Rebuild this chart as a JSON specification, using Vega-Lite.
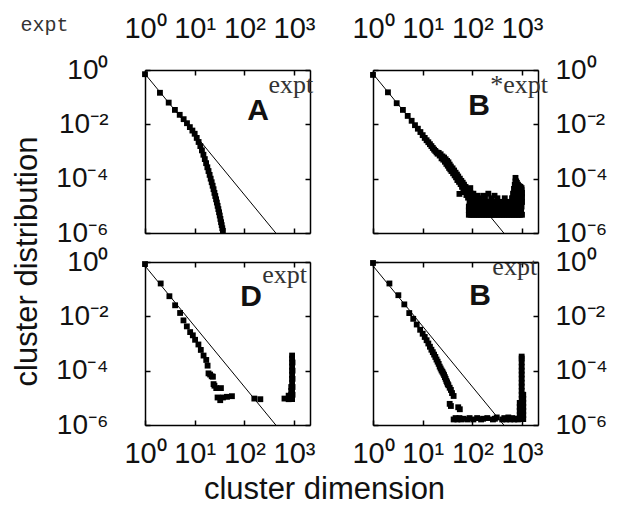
{
"$schema":"https://vega.github.io/schema/vega-lite/v6.json",
"autosize":"none",
"padding":{"left":145,"top":70,"right":475,"bottom":439},
"background":"white",
"config":{
 "view":{"stroke":null},
 "axis":{"grid":false,"domainColor":"#000","domainWidth":1.5,"tickColor":"#000","tickWidth":1.5,"tickSize":-5,"labelFont":"Liberation Sans","labelFontSize":29,"labelColor":"#111","labelOverlap":false,"labelFlush":false,"titleFont":"Liberation Sans","titleFontSize":31,"titleFontWeight":"normal","titleColor":"#111"},
 "axisY":{"labelFontSize":28}
},
"datasets":{
 "line":[{"x":1,"y":0.72},{"x":430,"y":0.000001}],
 "ann":[
  {"p":"A","letter":"A","sup":"expt","lx":115,"ly":0.0145,"sx":305,"sy":0.142},
  {"p":"B","letter":"B","sup":"*expt","lx":83,"ly":0.0224,"sx":230,"sy":0.142},
  {"p":"D","letter":"D","sup":"expt","lx":83,"ly":0.0234,"sx":230,"sy":0.166},
  {"p":"E","letter":"B","sup":"expt","lx":87,"ly":0.0257,"sx":253,"sy":0.33}
 ],
 "pts":[
  {"p":"A","x":1,"y":0.7},{"p":"A","x":2,"y":0.145},{"p":"A","x":3,"y":0.063},{"p":"A","x":4,"y":0.034},{"p":"A","x":5,"y":0.0224},{"p":"A","x":6,"y":0.0155},{"p":"A","x":7,"y":0.011},{"p":"A","x":8,"y":0.0079},{"p":"A","x":9,"y":0.0059},{"p":"A","x":10,"y":0.0045},{"p":"A","x":11,"y":0.00316},{"p":"A","x":12,"y":0.00224},{"p":"A","x":13,"y":0.00158},{"p":"A","x":14,"y":0.0011},{"p":"A","x":15,"y":0.00076},{"p":"A","x":16,"y":0.000525},{"p":"A","x":17,"y":0.000372},{"p":"A","x":18,"y":0.000263},{"p":"A","x":19,"y":0.000191},{"p":"A","x":20,"y":0.000138},{"p":"A","x":21,"y":0.0001},{"p":"A","x":22,"y":7.4e-5},{"p":"A","x":23,"y":5.5e-5},{"p":"A","x":24,"y":4.1e-5},{"p":"A","x":25,"y":3.0e-5},{"p":"A","x":26,"y":2.3e-5},{"p":"A","x":27,"y":1.74e-5},{"p":"A","x":28,"y":1.32e-5},{"p":"A","x":29,"y":1.0e-5},{"p":"A","x":30,"y":7.6e-6},{"p":"A","x":31,"y":5.8e-6},{"p":"A","x":32,"y":4.4e-6},{"p":"A","x":33,"y":3.3e-6},{"p":"A","x":34,"y":2.5e-6},{"p":"A","x":35,"y":1.95e-6},{"p":"A","x":36,"y":1.5e-6},{"p":"A","x":37,"y":1.2e-6},

  {"p":"B","x":1,"y":0.66},{"p":"B","x":2,"y":0.151},{"p":"B","x":3,"y":0.06},{"p":"B","x":4,"y":0.034},{"p":"B","x":5,"y":0.0204},{"p":"B","x":6,"y":0.0135},{"p":"B","x":7,"y":0.0093},{"p":"B","x":8,"y":0.0069},{"p":"B","x":9,"y":0.0052},{"p":"B","x":10,"y":0.004},{"p":"B","x":11,"y":0.00316},{"p":"B","x":12,"y":0.0026},{"p":"B","x":13,"y":0.0022},{"p":"B","x":14,"y":0.00186},{"p":"B","x":15,"y":0.00158},{"p":"B","x":16,"y":0.00135},{"p":"B","x":17,"y":0.00117},{"p":"B","x":18,"y":0.00105},{"p":"B","x":19,"y":0.00093},{"p":"B","x":20,"y":0.00083},
  {"p":"B","x":21,"y":0.00089},{"p":"B","x":22,"y":0.00071},{"p":"B","x":23,"y":0.00079},{"p":"B","x":24,"y":0.00056},{"p":"B","x":25,"y":0.00066},{"p":"B","x":26,"y":0.0005},{"p":"B","x":27,"y":0.0006},{"p":"B","x":28,"y":0.00042},{"p":"B","x":29,"y":0.00052},{"p":"B","x":30,"y":0.00035},{"p":"B","x":31,"y":0.00045},{"p":"B","x":32,"y":0.0003},{"p":"B","x":33,"y":0.0004},{"p":"B","x":34,"y":0.00025},{"p":"B","x":35,"y":0.00033},{"p":"B","x":36,"y":0.00022},{"p":"B","x":37,"y":0.00028},{"p":"B","x":38,"y":0.00019},{"p":"B","x":40,"y":0.00024},{"p":"B","x":41,"y":0.000158},{"p":"B","x":43,"y":0.0002},{"p":"B","x":44,"y":0.000132},{"p":"B","x":46,"y":0.000166},{"p":"B","x":47,"y":0.000112},{"p":"B","x":49,"y":0.000141},{"p":"B","x":50,"y":8.9e-5},{"p":"B","x":52,"y":0.00012},{"p":"B","x":54,"y":7.6e-5},{"p":"B","x":55,"y":2.75e-5},{"p":"B","x":56,"y":0.0001},{"p":"B","x":58,"y":6.3e-5},{"p":"B","x":60,"y":8.3e-5},{"p":"B","x":62,"y":5.0e-5},{"p":"B","x":64,"y":7.1e-5},{"p":"B","x":66,"y":4.0e-5},{"p":"B","x":68,"y":6.0e-5},{"p":"B","x":70,"y":3.2e-5},{"p":"B","x":73,"y":5.0e-5},{"p":"B","x":76,"y":2.5e-5},{"p":"B","x":79,"y":4.2e-5},{"p":"B","x":82,"y":2.0e-5},{"p":"B","x":85,"y":3.5e-5},{"p":"B","x":88,"y":2.35e-5},{"p":"B","x":91,"y":4.5e-5},{"p":"B","x":95,"y":2.8e-5},{"p":"B","x":100,"y":1.9e-5},
  {"p":"B","x":85,"y":4.7e-6},{"p":"B","x":92,"y":4.7e-6},{"p":"B","x":100,"y":4.7e-6},{"p":"B","x":108,"y":4.7e-6},{"p":"B","x":117,"y":4.7e-6},{"p":"B","x":126,"y":4.7e-6},{"p":"B","x":136,"y":4.7e-6},{"p":"B","x":147,"y":4.7e-6},{"p":"B","x":159,"y":4.7e-6},{"p":"B","x":172,"y":4.7e-6},{"p":"B","x":186,"y":4.7e-6},{"p":"B","x":200,"y":4.7e-6},{"p":"B","x":216,"y":4.7e-6},{"p":"B","x":234,"y":4.7e-6},{"p":"B","x":252,"y":4.7e-6},{"p":"B","x":272,"y":4.7e-6},{"p":"B","x":294,"y":4.7e-6},{"p":"B","x":318,"y":4.7e-6},{"p":"B","x":343,"y":4.7e-6},{"p":"B","x":370,"y":4.7e-6},{"p":"B","x":400,"y":4.7e-6},{"p":"B","x":432,"y":4.7e-6},{"p":"B","x":467,"y":4.7e-6},{"p":"B","x":504,"y":4.7e-6},{"p":"B","x":545,"y":4.7e-6},{"p":"B","x":590,"y":4.7e-6},{"p":"B","x":637,"y":4.7e-6},{"p":"B","x":688,"y":4.7e-6},{"p":"B","x":740,"y":4.7e-6},{"p":"B","x":800,"y":4.7e-6},{"p":"B","x":860,"y":4.7e-6},{"p":"B","x":930,"y":4.7e-6},{"p":"B","x":1000,"y":4.7e-6},
  {"p":"B","x":85,"y":6.8e-6},{"p":"B","x":96,"y":6.8e-6},{"p":"B","x":110,"y":6.8e-6},{"p":"B","x":122,"y":6.8e-6},{"p":"B","x":140,"y":6.8e-6},{"p":"B","x":155,"y":6.8e-6},{"p":"B","x":178,"y":6.8e-6},{"p":"B","x":195,"y":6.8e-6},{"p":"B","x":226,"y":6.8e-6},{"p":"B","x":245,"y":6.8e-6},{"p":"B","x":286,"y":6.8e-6},{"p":"B","x":310,"y":6.8e-6},{"p":"B","x":360,"y":6.8e-6},{"p":"B","x":390,"y":6.8e-6},{"p":"B","x":450,"y":6.8e-6},{"p":"B","x":480,"y":6.8e-6},{"p":"B","x":560,"y":6.8e-6},{"p":"B","x":600,"y":6.8e-6},{"p":"B","x":650,"y":6.8e-6},{"p":"B","x":700,"y":6.8e-6},{"p":"B","x":760,"y":6.8e-6},{"p":"B","x":820,"y":6.8e-6},{"p":"B","x":900,"y":6.8e-6},{"p":"B","x":960,"y":6.8e-6},
  {"p":"B","x":85,"y":9.4e-6},{"p":"B","x":95,"y":9.4e-6},{"p":"B","x":105,"y":9.4e-6},{"p":"B","x":115,"y":9.4e-6},{"p":"B","x":125,"y":9.4e-6},{"p":"B","x":136,"y":9.4e-6},{"p":"B","x":148,"y":9.4e-6},{"p":"B","x":160,"y":9.4e-6},{"p":"B","x":174,"y":9.4e-6},{"p":"B","x":188,"y":9.4e-6},{"p":"B","x":204,"y":9.4e-6},{"p":"B","x":220,"y":9.4e-6},{"p":"B","x":238,"y":9.4e-6},{"p":"B","x":258,"y":9.4e-6},{"p":"B","x":280,"y":9.4e-6},{"p":"B","x":302,"y":9.4e-6},{"p":"B","x":327,"y":9.4e-6},{"p":"B","x":354,"y":9.4e-6},{"p":"B","x":383,"y":9.4e-6},{"p":"B","x":414,"y":9.4e-6},{"p":"B","x":448,"y":9.4e-6},{"p":"B","x":485,"y":9.4e-6},{"p":"B","x":525,"y":9.4e-6},{"p":"B","x":568,"y":9.4e-6},{"p":"B","x":615,"y":9.4e-6},{"p":"B","x":665,"y":9.4e-6},{"p":"B","x":720,"y":9.4e-6},{"p":"B","x":780,"y":9.4e-6},{"p":"B","x":840,"y":9.4e-6},{"p":"B","x":910,"y":9.4e-6},{"p":"B","x":980,"y":9.4e-6},
  {"p":"B","x":88,"y":1.4e-5},{"p":"B","x":100,"y":1.4e-5},{"p":"B","x":112,"y":1.4e-5},{"p":"B","x":130,"y":1.4e-5},{"p":"B","x":150,"y":1.4e-5},{"p":"B","x":170,"y":1.4e-5},{"p":"B","x":195,"y":1.4e-5},{"p":"B","x":225,"y":1.4e-5},{"p":"B","x":260,"y":1.4e-5},{"p":"B","x":300,"y":1.4e-5},{"p":"B","x":350,"y":1.4e-5},{"p":"B","x":410,"y":1.4e-5},{"p":"B","x":480,"y":1.4e-5},{"p":"B","x":560,"y":1.4e-5},{"p":"B","x":600,"y":1.4e-5},{"p":"B","x":630,"y":1.4e-5},{"p":"B","x":660,"y":1.4e-5},{"p":"B","x":690,"y":1.4e-5},{"p":"B","x":715,"y":1.4e-5},{"p":"B","x":740,"y":1.4e-5},{"p":"B","x":765,"y":1.4e-5},{"p":"B","x":790,"y":1.4e-5},{"p":"B","x":830,"y":1.4e-5},{"p":"B","x":880,"y":1.4e-5},{"p":"B","x":930,"y":1.4e-5},{"p":"B","x":980,"y":1.4e-5},{"p":"B","x":1000,"y":1.4e-5},
  {"p":"B","x":92,"y":1.9e-5},{"p":"B","x":110,"y":1.9e-5},{"p":"B","x":140,"y":1.9e-5},{"p":"B","x":180,"y":1.9e-5},{"p":"B","x":240,"y":1.9e-5},{"p":"B","x":320,"y":1.9e-5},{"p":"B","x":450,"y":1.9e-5},{"p":"B","x":630,"y":1.9e-5},{"p":"B","x":660,"y":1.9e-5},{"p":"B","x":690,"y":2.0e-5},{"p":"B","x":715,"y":2.0e-5},{"p":"B","x":740,"y":2.0e-5},{"p":"B","x":765,"y":2.0e-5},{"p":"B","x":790,"y":2.0e-5},{"p":"B","x":830,"y":2.0e-5},{"p":"B","x":880,"y":2.0e-5},{"p":"B","x":930,"y":2.0e-5},{"p":"B","x":980,"y":2.0e-5},{"p":"B","x":1000,"y":2.2e-5},
  {"p":"B","x":97,"y":2.35e-5},{"p":"B","x":125,"y":2.35e-5},{"p":"B","x":165,"y":2.35e-5},{"p":"B","x":280,"y":2.35e-5},
  {"p":"B","x":105,"y":2.8e-5},{"p":"B","x":210,"y":2.8e-5},{"p":"B","x":660,"y":2.8e-5},{"p":"B","x":690,"y":2.8e-5},{"p":"B","x":715,"y":2.8e-5},{"p":"B","x":740,"y":2.8e-5},{"p":"B","x":765,"y":2.8e-5},{"p":"B","x":790,"y":2.8e-5},{"p":"B","x":830,"y":2.8e-5},{"p":"B","x":880,"y":2.8e-5},{"p":"B","x":930,"y":2.8e-5},{"p":"B","x":980,"y":2.8e-5},{"p":"B","x":1000,"y":3.0e-5},
  {"p":"B","x":690,"y":4.2e-5},{"p":"B","x":715,"y":4.0e-5},{"p":"B","x":740,"y":4.0e-5},{"p":"B","x":765,"y":4.0e-5},{"p":"B","x":790,"y":4.0e-5},{"p":"B","x":830,"y":4.0e-5},{"p":"B","x":880,"y":4.0e-5},{"p":"B","x":930,"y":4.2e-5},{"p":"B","x":980,"y":3.8e-5},
  {"p":"B","x":715,"y":6.0e-5},{"p":"B","x":740,"y":5.6e-5},{"p":"B","x":740,"y":7.9e-5},{"p":"B","x":740,"y":1.07e-4},{"p":"B","x":765,"y":5.6e-5},{"p":"B","x":765,"y":7.9e-5},{"p":"B","x":790,"y":5.6e-5},{"p":"B","x":790,"y":7.0e-5},{"p":"B","x":830,"y":6.0e-5},{"p":"B","x":880,"y":5.3e-5},{"p":"B","x":930,"y":5.0e-5},{"p":"B","x":980,"y":4.5e-5},

  {"p":"D","x":1,"y":0.84},{"p":"D","x":2.07,"y":0.162},{"p":"D","x":3.1,"y":0.055},{"p":"D","x":4.04,"y":0.0255},{"p":"D","x":5.09,"y":0.0133},{"p":"D","x":5.95,"y":0.0071},{"p":"D","x":6.95,"y":0.00427},{"p":"D","x":8.11,"y":0.00263},{"p":"D","x":9.18,"y":0.002},{"p":"D","x":10.2,"y":0.00137},{"p":"D","x":11.9,"y":0.00092},{"p":"D","x":13.3,"y":0.00058},{"p":"D","x":15.1,"y":0.00036},{"p":"D","x":17.1,"y":0.000248},{"p":"D","x":18.2,"y":0.000153},{"p":"D","x":19,"y":7.96e-5},{"p":"D","x":20.5,"y":7.2e-5},{"p":"D","x":22,"y":6.2e-5},{"p":"D","x":23.3,"y":6.0e-5},{"p":"D","x":24,"y":3.2e-5},{"p":"D","x":25,"y":2.8e-5},{"p":"D","x":27.2,"y":2.28e-5},{"p":"D","x":33.8,"y":2.28e-5},{"p":"D","x":28.9,"y":1.03e-5},{"p":"D","x":32.7,"y":8.2e-6},{"p":"D","x":37.1,"y":1.03e-5},{"p":"D","x":44.7,"y":1.09e-5},{"p":"D","x":56.3,"y":1.15e-5},{"p":"D","x":159,"y":9.4e-6},{"p":"D","x":210,"y":8.9e-6},{"p":"D","x":643,"y":9.4e-6},
  {"p":"D","x":780,"y":8.9e-6},{"p":"D","x":780,"y":1.2e-5},{"p":"D","x":880,"y":9e-6},{"p":"D","x":880,"y":1.3e-5},{"p":"D","x":880,"y":1.8e-5},{"p":"D","x":880,"y":2.5e-5},
  {"p":"D","x":915,"y":9e-6},{"p":"D","x":915,"y":1.3e-5},{"p":"D","x":915,"y":1.8e-5},{"p":"D","x":915,"y":2.5e-5},{"p":"D","x":915,"y":3.5e-5},{"p":"D","x":915,"y":5e-5},{"p":"D","x":915,"y":7e-5},{"p":"D","x":915,"y":1e-4},{"p":"D","x":915,"y":1.4e-4},{"p":"D","x":915,"y":2e-4},{"p":"D","x":915,"y":2.8e-4},{"p":"D","x":915,"y":3.6e-4},
  {"p":"D","x":935,"y":1.3e-5},{"p":"D","x":935,"y":2.5e-5},{"p":"D","x":935,"y":5e-5},{"p":"D","x":935,"y":1e-4},{"p":"D","x":935,"y":2e-4},

  {"p":"E","x":1,"y":0.92},{"p":"E","x":2.14,"y":0.162},{"p":"E","x":3.24,"y":0.06},{"p":"E","x":4.27,"y":0.0275},{"p":"E","x":5.37,"y":0.0132},{"p":"E","x":6.46,"y":0.0081},{"p":"E","x":7.59,"y":0.005},{"p":"E","x":8.9,"y":0.0032},{"p":"E","x":10,"y":0.00229},{"p":"E","x":11,"y":0.00174},{"p":"E","x":12,"y":0.00132},{"p":"E","x":13,"y":0.001},{"p":"E","x":14,"y":0.00076},{"p":"E","x":15,"y":0.00059},{"p":"E","x":16,"y":0.00048},{"p":"E","x":17,"y":0.00039},{"p":"E","x":18,"y":0.00032},{"p":"E","x":19,"y":0.000257},{"p":"E","x":20,"y":0.000214},{"p":"E","x":21,"y":0.000178},{"p":"E","x":22,"y":0.000141},{"p":"E","x":23,"y":0.00012},{"p":"E","x":24,"y":0.000102},{"p":"E","x":25,"y":9.1e-5},{"p":"E","x":26,"y":7.9e-5},{"p":"E","x":27,"y":6.9e-5},{"p":"E","x":28,"y":5.8e-5},{"p":"E","x":29,"y":5.0e-5},{"p":"E","x":30,"y":4.2e-5},{"p":"E","x":31,"y":3.7e-5},{"p":"E","x":32,"y":3.2e-5},{"p":"E","x":33,"y":2.9e-5},{"p":"E","x":35,"y":2.35e-5},{"p":"E","x":37,"y":1.95e-5},{"p":"E","x":39,"y":1.5e-5},{"p":"E","x":42,"y":1.17e-5},
  {"p":"E","x":35,"y":6e-6},{"p":"E","x":37,"y":5e-6},{"p":"E","x":52,"y":4.5e-6},{"p":"E","x":56,"y":3.8e-6},
  {"p":"E","x":42,"y":1.6e-6},{"p":"E","x":46,"y":1.8e-6},{"p":"E","x":50,"y":1.6e-6},{"p":"E","x":55,"y":1.8e-6},{"p":"E","x":60,"y":1.6e-6},{"p":"E","x":66,"y":1.7e-6},{"p":"E","x":80,"y":1.6e-6},{"p":"E","x":88,"y":1.8e-6},{"p":"E","x":105,"y":1.6e-6},{"p":"E","x":125,"y":1.8e-6},{"p":"E","x":150,"y":1.6e-6},{"p":"E","x":165,"y":1.7e-6},{"p":"E","x":200,"y":1.8e-6},{"p":"E","x":260,"y":1.6e-6},{"p":"E","x":285,"y":1.7e-6},{"p":"E","x":310,"y":1.9e-6},{"p":"E","x":400,"y":1.6e-6},{"p":"E","x":440,"y":1.8e-6},{"p":"E","x":480,"y":1.6e-6},{"p":"E","x":530,"y":1.9e-6},{"p":"E","x":580,"y":1.6e-6},{"p":"E","x":640,"y":1.8e-6},{"p":"E","x":700,"y":1.6e-6},{"p":"E","x":760,"y":1.7e-6},{"p":"E","x":830,"y":1.6e-6},{"p":"E","x":900,"y":1.8e-6},
  {"p":"E","x":900,"y":2.3e-6},{"p":"E","x":900,"y":3.3e-6},{"p":"E","x":900,"y":4.6e-6},{"p":"E","x":900,"y":6.5e-6},
  {"p":"E","x":985,"y":1.65e-6},{"p":"E","x":985,"y":2.3e-6},{"p":"E","x":985,"y":3.3e-6},{"p":"E","x":985,"y":4.6e-6},{"p":"E","x":985,"y":6.5e-6},{"p":"E","x":985,"y":9.2e-6},{"p":"E","x":985,"y":1.3e-5},{"p":"E","x":985,"y":1.8e-5},{"p":"E","x":985,"y":2.6e-5},{"p":"E","x":985,"y":3.6e-5},{"p":"E","x":985,"y":5.1e-5},{"p":"E","x":985,"y":7.2e-5},{"p":"E","x":985,"y":1.0e-4},{"p":"E","x":985,"y":1.4e-4},{"p":"E","x":985,"y":2.0e-4},{"p":"E","x":985,"y":2.8e-4},{"p":"E","x":985,"y":3.3e-4},
  {"p":"E","x":1060,"y":1.65e-6},{"p":"E","x":1060,"y":2.3e-6},{"p":"E","x":1060,"y":3.3e-6},{"p":"E","x":1060,"y":4.6e-6},{"p":"E","x":1060,"y":6.5e-6},{"p":"E","x":1060,"y":9.2e-6},{"p":"E","x":1060,"y":1.3e-5}
 ]
},
"columns":2,
"spacing":{"row":29,"column":63},
"bounds":"flush",
"concat":[
 {"width":165,"height":163,
  "layer":[
   {"data":{"name":"pts"},"transform":[{"filter":"datum.p=='A'"}],"mark":{"type":"square","size":34,"color":"#000","opacity":1},
    "encoding":{"x":{"field":"x","type":"quantitative","scale":{"type":"log","domain":[1,2100],"nice":false},"axis":{"orient":"bottom","values":[1,10,100,1000],"labels":false,"title":null}},
                "y":{"field":"y","type":"quantitative","scale":{"type":"log","domain":[0.000001,1],"nice":false},"axis":{"orient":"left","values":[1,0.01,0.0001,0.000001],"labelExpr":"datum.value >= 0.5 ? '10⁰' : datum.value >= 0.005 ? '10⁻²' : datum.value >= 0.00005 ? '10⁻⁴' : '10⁻⁶'","labelPadding":42,"title":"cluster distribution","titleX":-109,"titleY":191,"titleAngle":-90,"titleAlign":"center","titleBaseline":"alphabetic"}}}},
   {"data":{"name":"line"},"mark":{"type":"line","color":"#000","strokeWidth":1},
    "encoding":{"x":{"field":"x","type":"quantitative","scale":{"type":"log","domain":[1,2100],"nice":false},"axis":{"orient":"top","values":[1,10,100,1000],"labelExpr":"datum.value == 1 ? '10⁰' : datum.value == 10 ? '10¹' : datum.value == 100 ? '10²' : '10³'","labelPadding":32,"title":"expt","titleX":-101,"titleY":-40,"titleFont":"Liberation Mono","titleFontSize":20,"titleColor":"#333","titleAlign":"center","titleBaseline":"alphabetic","titleAngle":0}},
                "y":{"field":"y","type":"quantitative","scale":{"type":"log","domain":[0.000001,1],"nice":false},"axis":{"orient":"right","values":[1,0.01,0.0001,0.000001],"labels":false,"title":null}}}},
   {"data":{"name":"ann"},"transform":[{"filter":"datum.p=='A'"}],"mark":{"type":"text","font":"Liberation Sans","fontWeight":"bold","fontSize":30,"align":"left","baseline":"alphabetic","color":"#111"},
    "encoding":{"x":{"field":"lx","type":"quantitative","axis":null},"y":{"field":"ly","type":"quantitative","axis":null},"text":{"field":"letter"}}},
   {"data":{"name":"ann"},"transform":[{"filter":"datum.p=='A'"}],"mark":{"type":"text","font":"Liberation Serif","fontSize":26,"align":"left","baseline":"alphabetic","color":"#333"},
    "encoding":{"x":{"field":"sx","type":"quantitative","axis":null},"y":{"field":"sy","type":"quantitative","axis":null},"text":{"field":"sup"}}}
  ],
  "resolve":{"axis":{"x":"independent","y":"independent"}}},
 {"width":165,"height":163,
  "layer":[
   {"data":{"name":"pts"},"transform":[{"filter":"datum.p=='B'"}],"mark":{"type":"square","size":34,"color":"#000","opacity":1},
    "encoding":{"x":{"field":"x","type":"quantitative","scale":{"type":"log","domain":[1,2100],"nice":false},"axis":{"orient":"bottom","values":[1,10,100,1000],"labels":false,"title":null}},
                "y":{"field":"y","type":"quantitative","scale":{"type":"log","domain":[0.000001,1],"nice":false},"axis":{"orient":"left","values":[1,0.01,0.0001,0.000001],"labels":false,"title":null}}}},
   {"data":{"name":"line"},"mark":{"type":"line","color":"#000","strokeWidth":1},
    "encoding":{"x":{"field":"x","type":"quantitative","scale":{"type":"log","domain":[1,2100],"nice":false},"axis":{"orient":"top","values":[1,10,100,1000],"labelExpr":"datum.value == 1 ? '10⁰' : datum.value == 10 ? '10¹' : datum.value == 100 ? '10²' : '10³'","labelPadding":32,"title":null}},
                "y":{"field":"y","type":"quantitative","scale":{"type":"log","domain":[0.000001,1],"nice":false},"axis":{"orient":"right","values":[1,0.01,0.0001,0.000001],"labelExpr":"datum.value >= 0.5 ? '10⁰' : datum.value >= 0.005 ? '10⁻²' : datum.value >= 0.00005 ? '10⁻⁴' : '10⁻⁶'","labelPadding":22,"title":null}}}},
   {"data":{"name":"ann"},"transform":[{"filter":"datum.p=='B'"}],"mark":{"type":"text","font":"Liberation Sans","fontWeight":"bold","fontSize":30,"align":"left","baseline":"alphabetic","color":"#111"},
    "encoding":{"x":{"field":"lx","type":"quantitative","axis":null},"y":{"field":"ly","type":"quantitative","axis":null},"text":{"field":"letter"}}},
   {"data":{"name":"ann"},"transform":[{"filter":"datum.p=='B'"}],"mark":{"type":"text","font":"Liberation Serif","fontSize":26,"align":"left","baseline":"alphabetic","color":"#333"},
    "encoding":{"x":{"field":"sx","type":"quantitative","axis":null},"y":{"field":"sy","type":"quantitative","axis":null},"text":{"field":"sup"}}}
  ],
  "resolve":{"axis":{"x":"independent","y":"independent"}}},
 {"width":165,"height":163,
  "layer":[
   {"data":{"name":"pts"},"transform":[{"filter":"datum.p=='D'"}],"mark":{"type":"square","size":34,"color":"#000","opacity":1},
    "encoding":{"x":{"field":"x","type":"quantitative","scale":{"type":"log","domain":[1,2100],"nice":false},"axis":{"orient":"bottom","values":[1,10,100,1000],"labelExpr":"datum.value == 1 ? '10⁰' : datum.value == 10 ? '10¹' : datum.value == 100 ? '10²' : '10³'","labelPadding":19,"title":"cluster dimension","titleX":179,"titleY":73,"titleAlign":"center","titleBaseline":"alphabetic"}},
                "y":{"field":"y","type":"quantitative","scale":{"type":"log","domain":[0.000001,1],"nice":false},"axis":{"orient":"left","values":[1,0.01,0.0001,0.000001],"labelExpr":"datum.value >= 0.5 ? '10⁰' : datum.value >= 0.005 ? '10⁻²' : datum.value >= 0.00005 ? '10⁻⁴' : '10⁻⁶'","labelPadding":42,"title":null}}}},
   {"data":{"name":"line"},"mark":{"type":"line","color":"#000","strokeWidth":1},
    "encoding":{"x":{"field":"x","type":"quantitative","scale":{"type":"log","domain":[1,2100],"nice":false},"axis":{"orient":"top","values":[1,10,100,1000],"labels":false,"title":null}},
                "y":{"field":"y","type":"quantitative","scale":{"type":"log","domain":[0.000001,1],"nice":false},"axis":{"orient":"right","values":[1,0.01,0.0001,0.000001],"labels":false,"title":null}}}},
   {"data":{"name":"ann"},"transform":[{"filter":"datum.p=='D'"}],"mark":{"type":"text","font":"Liberation Sans","fontWeight":"bold","fontSize":30,"align":"left","baseline":"alphabetic","color":"#111"},
    "encoding":{"x":{"field":"lx","type":"quantitative","axis":null},"y":{"field":"ly","type":"quantitative","axis":null},"text":{"field":"letter"}}},
   {"data":{"name":"ann"},"transform":[{"filter":"datum.p=='D'"}],"mark":{"type":"text","font":"Liberation Serif","fontSize":26,"align":"left","baseline":"alphabetic","color":"#333"},
    "encoding":{"x":{"field":"sx","type":"quantitative","axis":null},"y":{"field":"sy","type":"quantitative","axis":null},"text":{"field":"sup"}}}
  ],
  "resolve":{"axis":{"x":"independent","y":"independent"}}},
 {"width":165,"height":163,
  "layer":[
   {"data":{"name":"pts"},"transform":[{"filter":"datum.p=='E'"}],"mark":{"type":"square","size":34,"color":"#000","opacity":1},
    "encoding":{"x":{"field":"x","type":"quantitative","scale":{"type":"log","domain":[1,2100],"nice":false},"axis":{"orient":"bottom","values":[1,10,100,1000],"labelExpr":"datum.value == 1 ? '10⁰' : datum.value == 10 ? '10¹' : datum.value == 100 ? '10²' : '10³'","labelPadding":19,"title":null}},
                "y":{"field":"y","type":"quantitative","scale":{"type":"log","domain":[0.000001,1],"nice":false},"axis":{"orient":"left","values":[1,0.01,0.0001,0.000001],"labels":false,"title":null}}}},
   {"data":{"name":"line"},"mark":{"type":"line","color":"#000","strokeWidth":1},
    "encoding":{"x":{"field":"x","type":"quantitative","scale":{"type":"log","domain":[1,2100],"nice":false},"axis":{"orient":"top","values":[1,10,100,1000],"labels":false,"title":null}},
                "y":{"field":"y","type":"quantitative","scale":{"type":"log","domain":[0.000001,1],"nice":false},"axis":{"orient":"right","values":[1,0.01,0.0001,0.000001],"labelExpr":"datum.value >= 0.5 ? '10⁰' : datum.value >= 0.005 ? '10⁻²' : datum.value >= 0.00005 ? '10⁻⁴' : '10⁻⁶'","labelPadding":22,"title":null}}}},
   {"data":{"name":"ann"},"transform":[{"filter":"datum.p=='E'"}],"mark":{"type":"text","font":"Liberation Sans","fontWeight":"bold","fontSize":30,"align":"left","baseline":"alphabetic","color":"#111"},
    "encoding":{"x":{"field":"lx","type":"quantitative","axis":null},"y":{"field":"ly","type":"quantitative","axis":null},"text":{"field":"letter"}}},
   {"data":{"name":"ann"},"transform":[{"filter":"datum.p=='E'"}],"mark":{"type":"text","font":"Liberation Serif","fontSize":26,"align":"left","baseline":"alphabetic","color":"#333"},
    "encoding":{"x":{"field":"sx","type":"quantitative","axis":null},"y":{"field":"sy","type":"quantitative","axis":null},"text":{"field":"sup"}}}
  ],
  "resolve":{"axis":{"x":"independent","y":"independent"}}}
]
}
